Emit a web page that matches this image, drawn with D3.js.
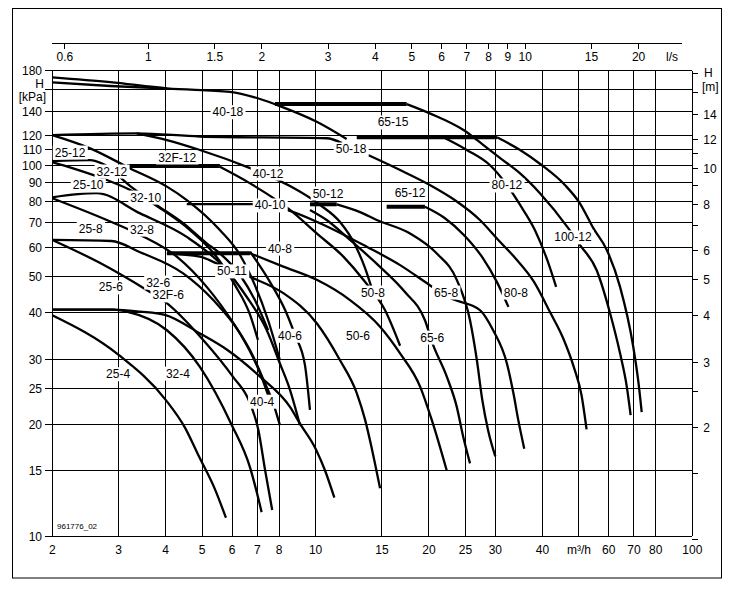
<!DOCTYPE html>
<html><head><meta charset="utf-8">
<script src="https://cdn.jsdelivr.net/npm/d3@7"></script>
<style>body{margin:0;background:#fff}</style>
</head><body><svg id="c" width="743" height="598"></svg>
<script>
// ---------- axes data ----------
const xTicks = [2,3,4,5,6,7,8,10,15,20,25,30,40,50,60,70,80,100];
const xTickLabels = ["2","3","4","5","6","7","8","10","15","20","25","30","40","m³/h","60","70","80","100"];
const yTicks = [10,15,20,25,30,40,50,60,70,80,90,100,110,120,140,160,180];
const yTickLabels = ["10","15","20","25","30","40","50","60","70","80","90","100","110","120","140","","180"];
const lsTicks = [0.6,1,1.5,2,3,4,5,6,7,8,9,10,15,20];
const lsTickLabels = ["0.6","1","1.5","2","3","4","5","6","7","8","9","10","15","20"];
const mTicks = [1,1.5,2,2.5,3,4,5,6,7,8,9,10,11,12,14,16,18];
const mTickLabels = ["","","2","","3","4","5","6","","8","","10","","12","14","",""];

// ---------- curve data (flow m³/h, head kPa) ----------
const c40_18a = [[2,172.8],[2.85,167.7],[4.03,161.3],[5.93,157.9],[7.12,151.0],[8.04,144.5],[10.07,131.1],[12.09,117.8]];
const c40_18b = [[2,167.5],[2.85,163.7],[4.03,161.0]];
const c65_15flat = [[7.80,146.3],[17.45,146.3]];
const c65_15 = [[17.45,146.3],[20.1,138.1],[24.7,124.5],[27.9,113.4],[30.9,104.6],[34.9,95.1],[39.4,84.1],[46.9,67.6],[50.3,61.0],[55.7,52.2],[60.5,39.9],[64.3,31.1],[67.0,25.3],[68.6,21.2]];
const c100_12flat = [[12.86,119.0],[30.3,119.0]];
const c100_12 = [[30.3,119.0],[34.9,110.0],[39.8,100.2],[45.9,88.5],[50.3,79.0],[54.6,67.7],[59.3,59.1],[64.3,47.0],[69.7,32.4],[71.8,26.4],[73.4,21.6]];
const c50_18a = [[2,120.7],[3.35,122.0],[4.93,119.6],[10.70,118.3],[11.75,114.9]];
const c50_18b = [[13.78,106.6],[16.76,97.1],[20.1,88.5],[23.4,80.6],[27.3,71.2],[30.5,63],[34,56],[38,48.5],[42,40],[45.5,34],[48.5,28.5],[50.8,24],[52.4,19.4]];
const c32F_12 = [[3.35,122.0],[4.03,117.0],[4.93,110.0],[6.70,98.3],[7.43,94.1],[8.55,87.9],[10.27,78.2],[11.61,70.3],[12.73,61.0],[13.53,52.8],[14.2,45.5]];
const c25_12 = [[2,120.6],[2.52,111.1],[3.22,98.1],[4.03,87.6],[4.55,80.6],[5.57,66.9],[6.30,57.3],[6.90,47.5],[7.48,38.2],[8.04,29.8]];
const c32_12 = [[2,102.7],[2.52,103.3],[2.73,100.8],[3.22,87.9],[3.78,78.2],[4.45,69.8],[5.14,61.6],[5.57,57.9],[6.30,50.6],[6.90,43.3],[7.48,35.9]];
const c25_10 = [[2,102.0],[2.27,98.1],[2.79,91.3],[3.22,85.8],[3.86,76.7],[4.64,66.9],[5.41,57.3],[6.11,47.5],[6.70,39.5],[7.03,33.8]];
const c32_8 = [[2,82.0],[2.62,84.1],[3.42,74.2],[4.55,64.1],[5.69,53.3],[6.56,44.2],[7.42,35.9],[8.04,29.2],[8.55,24.8],[9.09,19.9]];
const c25_8 = [[2,81.5],[2.79,71.2],[3.42,64.9],[4.28,56.7],[5.14,47.0],[6.05,37.5],[6.83,30.5],[7.27,26.4],[7.72,22.8],[8.04,19.9]];
const c25_6 = [[2,62.9],[2.87,62.5],[3.42,58.3],[4.45,51.1],[5.35,43.3],[6.3,35.2],[7.12,27.5],[7.48,24.0]];
const c32_6 = [[2,62.9],[2.68,54.5],[3.56,46.1],[3.98,42.9],[5.03,33.8],[6.03,26.9],[6.7,22.8],[7.05,19.3],[7.34,15.1],[7.67,11.75]];
const c32_4 = [[2,40.8],[2.9,40.8],[3.15,40.3],[4.03,35.9],[4.93,28.6],[5.98,20.0],[6.7,15.3],[7.19,11.6]];
const c40_4 = [[2,40.8],[2.9,40.8],[3.42,40.3],[3.98,39.5],[4.93,35.2],[5.82,31.8],[7.12,26.9],[8.55,22.3],[9.09,20.1],[10.03,17.1],[10.6,15.0],[11.21,12.7]];
const c25_4 = [[2,39.4],[3,30.8],[4,23.3],[4.5,19.6],[4.9,16.4],[5.4,13.4],[5.78,11.2]];
const c40_12flat = [[3.16,99.6],[5.57,99.6]];
const c40_12 = [[5.57,99.1],[6.70,89.4],[8.55,75.8],[10.07,65.5],[11.85,56.7],[13.39,49.1],[15.28,40.7],[16.76,32.6]];
const c50_11flat = [[4.03,57.9],[6.70,57.9]];
const c40_8 = [[6.70,57.9],[8.21,53.3],[10.07,49.1],[12.34,43.3],[14.83,36.7],[16.76,31.1],[18.94,25.3],[20.33,20.6],[22.3,15.0]];
const c50_11 = [[4.03,57.9],[4.93,56.7],[5.46,54.4],[6.70,50.0],[8.21,45.2],[10.07,37.5],[11.61,29.8],[12.86,24.3],[13.53,20.6],[14.12,17.1],[14.83,13.45]];
const c40_6 = [[6.70,58.5],[7.57,48.4],[8.30,40.7],[8.82,34.8],[9.37,28.9],[9.66,21.9]];
const c65_8 = [[4.55,78.6],[6.90,78.6],[8.38,75.8],[10.27,69.8],[13.67,60.3],[16.76,53.8],[20.1,47.5],[22.7,43.9],[27.3,40.7],[29.6,35.9],[32.2,29.2],[33.5,24.3],[34.5,20.6],[35.8,17.2]];
const c50_12flat = [[9.66,78.5],[11.38,78.5]];
const c50_12 = [[11.38,78.5],[13.12,74.8],[14.53,71.2],[17.81,65.5],[20.95,57.9],[23.7,49.1],[25.7,38.2],[26.8,29.8],[27.7,23.3],[28.7,19.3],[30.0,16.4]];
const c65_6 = [[9.66,75.8],[10.70,71.2],[12.34,62.9],[14.66,53.8],[17.27,45.5],[19.51,38.2],[20.46,33.0],[22.3,26.9],[23.7,22.3],[24.6,18.7],[25.7,15.7]];
const c65_12flat = [[15.44,77.3],[19.51,77.3]];
const c65_12 = [[19.51,77.3],[22.0,72.1],[24.9,64.5],[27.8,56.2],[30.3,48.4],[32.5,41.5]];
const c80_12 = [[21.83,119.0],[25.2,110.0],[29.0,100.2],[32.2,88.5],[34.9,78.2],[38.2,66.9],[41.4,54.8],[43.5,47.0]];

const curves = [c40_18a,c40_18b,c65_15,c100_12,c50_18a,c50_18b,c32F_12,c25_12,c32_12,c25_10,c32_8,c25_8,c25_6,c32_6,c32_4,c40_4,c25_4,c40_12,c40_8,c50_11,c40_6,c65_8,c50_12,c65_6,c65_12,c80_12];
const flats = [c65_15flat,c100_12flat,c40_12flat,c50_11flat,c50_12flat,c65_12flat];

// ---------- labels (text, flow, head) ----------
const labelText = ["40-18","65-15","50-18","25-12","32F-12","32-12","25-10","32-10","40-12","40-10","50-12","65-12","80-12","100-12","25-8","32-8","40-8","50-11","25-6","32-6","32F-6","50-8","65-8","80-8","40-6","50-6","65-6","25-4","32-4","40-4"];
const labelFlow = [5.85,16.05,12.42,2.23,4.29,2.88,2.49,3.54,7.48,7.57,10.79,17.81,32.2,48.2,2.53,3.46,8.04,6.0,2.86,3.82,4.06,14.2,22.2,34.0,8.55,12.96,20.4,2.99,4.31,7.21];
const labelHead = [139.5,130.9,110.7,108.6,105.3,96.5,88.5,82.1,95.3,78.2,84.2,84.7,88.5,64.1,67.7,67.3,59.8,51.9,47.0,48.4,44.7,45.5,45.5,45.5,34.8,34.8,34.4,27.4,27.5,23.1];

// ---------- drawing ----------
const svg = d3.select("#c");
const FONT = "'Liberation Sans', Arial, sans-serif";
const x = d3.scaleLog().domain([2,100]).range([52.3,692.3]);
const y = d3.scaleLog().domain([10,180]).range([536,70.7]);
const KPA_PER_M = 9.81;

svg.append("rect").attr("x",12.5).attr("y",8.5).attr("width",709).attr("height",569.5)
  .attr("fill","none").attr("stroke","#000").attr("stroke-width",1);

const grid = svg.append("g").attr("stroke","#000").attr("stroke-width",1).attr("shape-rendering","crispEdges");
xTicks.forEach(t=>grid.append("line").attr("x1",x(t)).attr("x2",x(t)).attr("y1",y(180)).attr("y2",y(10)));
yTicks.forEach(t=>grid.append("line").attr("x1",x(2)-7).attr("x2",x(100)).attr("y1",y(t)).attr("y2",y(t)));

yTicks.forEach((t,i)=>{
  if(!yTickLabels[i]) return;
  svg.append("text").attr("x",42).attr("y",y(t)+4.5).attr("text-anchor","end")
    .attr("font-family",FONT).attr("font-size",12).text(yTickLabels[i]);
});
svg.append("text").attr("x",44).attr("y",88).attr("text-anchor","end")
  .attr("font-family",FONT).attr("font-size",12).text("H");
svg.append("text").attr("x",46).attr("y",101).attr("text-anchor","end")
  .attr("font-family",FONT).attr("font-size",12).text("[kPa]");

xTicks.forEach((t,i)=>{
  svg.append("text").attr("x",x(t)).attr("y",554).attr("text-anchor","middle")
    .attr("font-family",FONT).attr("font-size",12).text(xTickLabels[i]);
});

const topY = 43.5;
svg.append("line").attr("x1",52).attr("x2",682).attr("y1",topY).attr("y2",topY).attr("stroke","#000").attr("shape-rendering","crispEdges");
lsTicks.forEach((t,i)=>{
  const px = x(t*3.6);
  svg.append("line").attr("x1",px).attr("x2",px).attr("y1",topY).attr("y2",topY+5).attr("stroke","#000").attr("shape-rendering","crispEdges");
  svg.append("text").attr("x",px).attr("y",topY+17).attr("text-anchor","middle")
    .attr("font-family",FONT).attr("font-size",12).text(lsTickLabels[i]);
});
svg.append("text").attr("x",672).attr("y",topY+17).attr("text-anchor","middle")
  .attr("font-family",FONT).attr("font-size",12).text("l/s");

mTicks.forEach((t,i)=>{
  const py = y(t*KPA_PER_M);
  svg.append("line").attr("x1",x(100)).attr("x2",x(100)+6).attr("y1",py).attr("y2",py).attr("stroke","#000").attr("shape-rendering","crispEdges");
  if(mTickLabels[i]) svg.append("text").attr("x",x(100)+11).attr("y",py+4.5)
    .attr("font-family",FONT).attr("font-size",12).text(mTickLabels[i]);
});
svg.append("text").attr("x",704).attr("y",77).attr("font-family",FONT).attr("font-size",12).text("H");
svg.append("text").attr("x",702).attr("y",91).attr("font-family",FONT).attr("font-size",12).text("[m]");

const line = d3.line().x(d=>x(d[0])).y(d=>y(d[1])).curve(d3.curveMonotoneX);
const cg = svg.append("g").attr("fill","none").attr("stroke","#000").attr("stroke-linejoin","round");
curves.forEach(c=>cg.append("path").attr("d",line(c)).attr("stroke-width",2.3));
flats.forEach(c=>cg.append("path").attr("d",line(c)).attr("stroke-width",4));

const lg = svg.append("g");
labelText.forEach((t,i)=>{
  const px = x(labelFlow[i]), py = y(labelHead[i]);
  const tx = lg.append("text").attr("x",px).attr("y",py+4.5).attr("text-anchor","middle")
    .attr("font-family",FONT).attr("font-size",12).text(t);
  const b = tx.node().getBBox();
  lg.insert("rect","text").attr("x",b.x-2).attr("y",b.y).attr("width",b.width+4).attr("height",b.height).attr("fill","#fff");
});
svg.append("text").attr("x",57).attr("y",529).attr("font-family",FONT).attr("font-size",8).text("961776_02");
</script></body></html>
